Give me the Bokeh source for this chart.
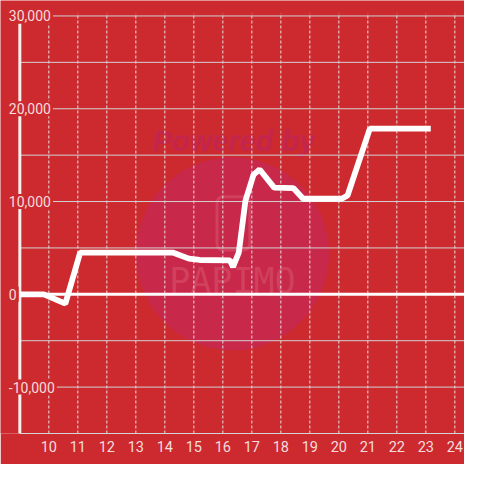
from bokeh.plotting import figure
from bokeh.models import FixedTicker, Range1d
from bokeh.core.properties import value
from bokeh.embed import file_html
from bokeh.resources import INLINE

# ---- data ----
hours = [9.0, 9.83, 10.57, 11.08, 14.27, 14.83, 15.2, 16.25, 16.35, 16.55,
         16.78, 17.06, 17.27, 17.77, 18.43, 18.77, 20.1, 20.3, 21.07, 23.17]
balance = [0, 0, -1000, 4500, 4500, 3850, 3700, 3650, 2950, 4500,
           10100, 12900, 13450, 11500, 11450, 10300, 10300, 10650, 17850, 17850]

x_ticks = list(range(10, 25))
y_grid = [-10000, -5000, 5000, 10000, 15000, 20000, 25000, 30000]
y_label_vals = [30000, 20000, 10000, 0, -10000]
y_label_text = ["30,000", "20,000", "10,000", "0", "-10,000"]

# ---- style ----
BG = "#CD2A2F"
S = 464 / 480
LBL = "#F4DCDD"
X0, X1 = 9 - 2 / 3, 24 + 1 / 3
Y0, Y1 = -15000, 31666.7
XMIN = 9

p = figure(width=464, height=464,
           x_range=Range1d(X0, X1), y_range=Range1d(Y0, Y1),
           output_backend="svg", toolbar_location=None,
           min_border_left=0, min_border_right=0, min_border_top=0,
           min_border_bottom=31,
           background_fill_color=BG, border_fill_color=BG,
           outline_line_color=None, y_axis_location=None)
p.grid.visible = False

ax = p.xaxis[0]
ax.ticker = FixedTicker(ticks=x_ticks)
ax.bounds = (XMIN, X1)
ax.axis_line_color = "#D5D5D5"
ax.axis_line_width = 1
ax.major_tick_in = 0
ax.major_tick_out = 0
ax.minor_tick_in = 0
ax.minor_tick_out = 0
ax.major_tick_line_color = None
ax.minor_tick_line_color = None
ax.major_label_text_color = LBL
ax.major_label_text_font = "Roboto"
ax.major_label_text_font_size = "14.5px"
ax.major_label_standoff = 7

# ---- watermark ----
p.scatter(x=[16.333], y=[4375], size=200 * S, marker="circle",
          fill_color="#C8284A", line_color=None)
p.text(x=[16.38], y=[16563], text=["Powered by"],
       text_font=value("Liberation Sans"), text_font_style="bold italic",
       text_font_size="29px", text_color="#C4254D",
       text_align="center", text_baseline="alphabetic")
p.quad(left=[15.8], right=[16.93], top=[10520], bottom=[4790],
       fill_color=None, line_color="#D9586F", line_width=3, line_alpha=0.5,
       border_radius=6)
p.text(x=[16.33], y=[1458], text=["PAPIMO"],
       text_font=value("DejaVu Sans Mono"), text_font_size="35px",
       text_color="#DA5A72", text_alpha=0.5,
       text_align="center", text_baseline="middle")

# ---- grid ----
p.segment(x0=x_ticks, x1=x_ticks, y0=[Y0] * len(x_ticks),
          y1=[30300] * len(x_ticks), line_color="#E6E0E0",
          line_width=1, line_dash="3 2")
p.segment(x0=[XMIN] * len(y_grid), x1=[X1] * len(y_grid),
          y0=y_grid, y1=y_grid, line_color="#D2D2D2", line_width=1)
p.segment(x0=[XMIN], x1=[X1], y0=[0], y1=[0], line_color="white",
          line_width=3)
p.segment(x0=[XMIN], x1=[XMIN], y0=[Y0], y1=[29200], line_color="#F5F0F0",
          line_width=3)

# ---- data line ----
p.line(hours, balance, line_color="white", line_width=6 * S)

# ---- y labels ----
p.text(x=[XMIN] * len(y_label_vals), y=y_label_vals, text=y_label_text,
       x_offset=-13, text_align="left", text_baseline="middle",
       text_font=value("Roboto"), text_font_size="14px",
       text_color=LBL, background_fill_color=BG, padding=2)

open("out.html", "w").write(file_html(p, INLINE))
